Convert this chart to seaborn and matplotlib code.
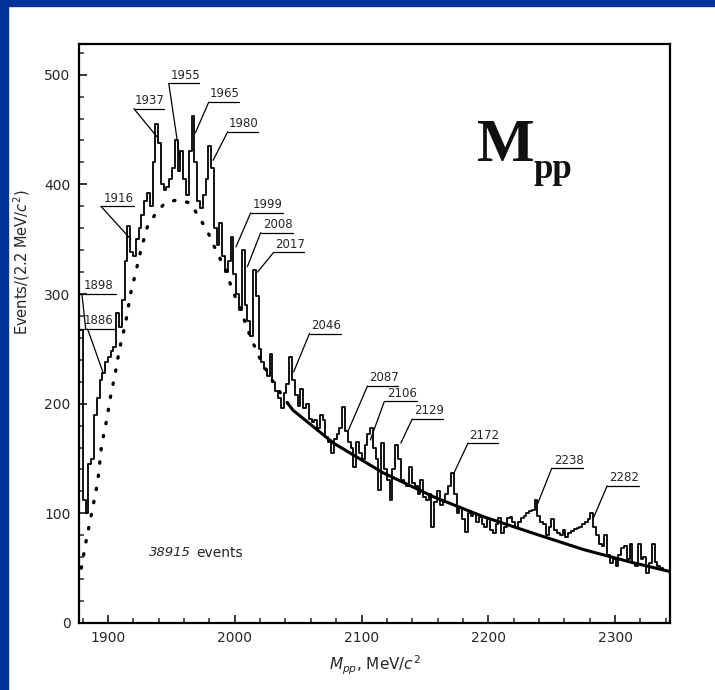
import numpy as np
import pandas as pd
import matplotlib
matplotlib.use("Agg")
import matplotlib.pyplot as plt
import seaborn as sns
from matplotlib.patches import Rectangle

# ---------------- data ----------------
bin_start = 1878.0
bin_width = 2.2  # MeV
counts = [
    267, 112, 100, 145, 150, 190, 205, 222, 228, 238,
    243, 248, 252, 283, 270, 295, 330, 362, 338, 335,
    350, 360, 372, 385, 392, 380, 420, 455, 438, 400,
    395, 398, 405, 415, 440, 412, 430, 405, 390, 430,
    462, 420, 385, 378, 390, 405, 435, 415, 360, 345,
    365, 335, 320, 330, 352, 318, 300, 285, 340, 290,
    275, 262, 322, 298, 250, 238, 232, 225, 245, 220,
    212, 205, 196, 210, 218, 243, 222, 208, 198, 213,
    196, 200, 186, 183, 185, 178, 190, 185, 170, 165,
    155, 168, 172, 178, 197, 175, 165, 160, 142, 165,
    155, 150, 162, 172, 178, 160, 150, 121, 164, 140,
    130, 112, 140, 162, 150, 130, 128, 125, 142, 128,
    125, 118, 130, 115, 112, 118, 88, 110, 120, 108,
    110, 118, 125, 137, 118, 100, 105, 95, 83, 100,
    98, 100, 92, 97, 90, 88, 95, 85, 82, 90,
    96, 82, 88, 96, 97, 92, 88, 92, 96, 98,
    100, 102, 103, 112, 98, 92, 90, 80, 88, 95,
    85, 82, 80, 85, 78, 82, 84, 86, 87, 88,
    90, 92, 95, 100, 88, 80, 72, 70, 80, 62,
    55, 58, 52, 62, 68, 70, 58, 72, 55, 52,
    72, 58, 60, 46, 55, 72, 56, 52, 50, 48, 47,
]

# background fit (dotted part and solid part)
bg_dot_mass = [1879, 1883, 1888, 1892, 1895, 1899, 1902, 1906, 1909, 1914,
               1918, 1922, 1926, 1931, 1938, 1945, 1955, 1965, 1973, 1979,
               1984, 1989, 1994, 1997, 2005, 2010, 2015, 2020, 2028, 2036, 2042]
bg_dot_val = [50, 76, 105, 129, 162, 185, 206, 229, 249, 274,
              301, 320, 340, 361, 374, 383, 386, 383, 368, 356,
              343, 331, 320, 307, 285, 268, 254, 241, 224, 210, 200]
bg_sol_mass = [2042, 2046, 2078, 2117, 2157, 2196, 2235, 2275, 2314, 2343]
bg_sol_val = [200, 194, 164, 137, 115, 97, 82, 67, 55, 47]

# peak labels: text, underline start/end mass, underline level, leader start, tip
peak_labels = ["1898", "1886", "1916", "1937", "1955", "1965", "1980", "1999",
               "2008", "2017", "2046", "2087", "2106", "2129", "2172", "2238", "2282"]
lab_x0 = [1877.5, 1877.5, 1894.5, 1920.5, 1948, 1979.5, 1994.5, 2012.6,
          2020.5, 2030.7, 2059, 2104.7, 2118, 2140, 2184, 2250, 2293.7]
lab_x1 = [1906, 1906, 1920.5, 1944, 1971.7, 2003, 2018, 2037.8,
          2045.7, 2054.3, 2083.5, 2129, 2144, 2164.6, 2208, 2275, 2319]
lab_y = [300, 268, 380, 469, 492, 475, 448, 374, 356, 338, 264, 216, 202, 186, 164, 141, 125]
lead_x = [1879.5, 1884, 1894.5, 1920.5, 1948, 1979.5, 1994.5, 2012.6,
          2020.5, 2030.7, 2059, 2104.7, 2118, 2140, 2184, 2250, 2293.7]
tip_x = [1882.5, 1896, 1918, 1939, 1957, 1969, 1983, 2001, 2010, 2018, 2046.5,
         2089, 2107, 2131, 2173, 2239, 2283]
tip_y = [268, 229, 350, 443, 422, 447, 422, 343, 325, 320, 229, 174, 167, 164, 137, 109, 96]

x_ticks = [1900, 2000, 2100, 2200, 2300]
y_ticks = [0, 100, 200, 300, 400, 500]

# ---------------- figure ----------------
sns.set_style("white")
plt.rcParams["font.family"] = ["DejaVu Sans"]

fig = plt.figure(figsize=(7.15, 6.9), dpi=100)
fig.patch.set_facecolor("white")
blue = "#003399"
fig.add_artist(Rectangle((0, 0), 8 / 715, 1, transform=fig.transFigure, color=blue, zorder=0))
fig.add_artist(Rectangle((0, 1 - 6 / 690), 1, 6 / 690, transform=fig.transFigure, color=blue, zorder=0))

ax = fig.add_axes([79 / 715, 67 / 690, 591 / 715, 579 / 690])

edges = bin_start + bin_width * np.arange(len(counts) + 1)
centers = (edges[:-1] + edges[1:]) / 2
hist_df = pd.DataFrame({"mass": centers, "count": counts})
sns.histplot(data=hist_df, x="mass", weights="count", bins=list(edges), element="step",
             fill=False, color="black", linewidth=1.3, ax=ax)

sns.lineplot(x=bg_dot_mass, y=bg_dot_val, ax=ax, color="black", linewidth=2.4,
             linestyle=(0, (0.4, 3.6)), sort=False)
ax.lines[-1].set_dash_capstyle("round")
sns.lineplot(x=bg_sol_mass, y=bg_sol_val, ax=ax, color="black", linewidth=2.2, sort=False)

# peak labels
for t, x0, x1, yl, lx, tx, ty in zip(peak_labels, lab_x0, lab_x1, lab_y, lead_x, tip_x, tip_y):
    ax.plot([x0, x1], [yl, yl], color="black", lw=0.9)
    ax.text((x0 + x1) / 2 + 1, yl + 1.5, t, ha="center", va="bottom", fontsize=8.5)
    ax.plot([lx, tx], [yl, ty], color="black", lw=0.9)

ax.text(1932, 64, "38915", style="italic", fontsize=9.5, ha="left", va="center")
ax.text(1970, 64, "events", fontsize=10, ha="left", va="center")

ax.set_xlim(1877.2, 2343.3)
ax.set_ylim(0, 528)
ax.set_xticks(x_ticks)
ax.set_yticks(y_ticks)
ax.set_xticks(np.arange(1880, 2343, 20), minor=True)
ax.set_yticks(np.arange(0, 528, 20), minor=True)
ax.tick_params(which="major", direction="in", length=6, width=1.3, labelsize=10, pad=6)
ax.tick_params(which="minor", direction="in", length=3.5, width=1.1)
ax.tick_params(axis="both", which="both", bottom=True, left=True, top=False, right=False)
for s in ax.spines.values():
    s.set_linewidth(1.6)
    s.set_color("black")

ax.set_xlabel(r"$M_{pp}$, MeV/$c^2$", fontsize=11, labelpad=6)
ax.set_ylabel(r"Events/(2.2 MeV/$c^2$)", fontsize=10.5)
ax.yaxis.set_label_coords(-0.08, 0.623)

# big title
fig.text(477 / 715, 1 - 161 / 690, "M", fontsize=44, fontweight="bold",
         family=["Liberation Serif", "DejaVu Serif"], ha="left", va="baseline", color="#111111")
fig.text(533 / 715, 1 - 178 / 690, "pp", fontsize=25, fontweight="bold",
         family=["Liberation Serif", "DejaVu Serif"], ha="left", va="baseline", color="#111111")

fig.savefig("out.png", dpi=100, facecolor="white")
